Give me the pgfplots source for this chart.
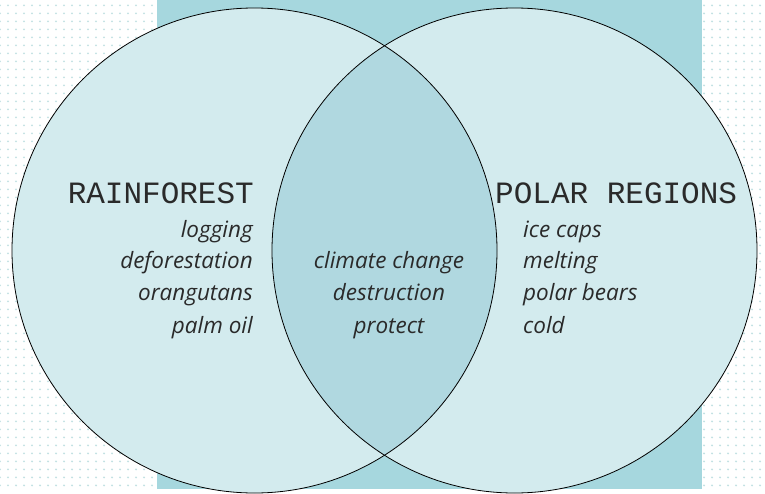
\documentclass[border=0pt]{standalone}
\usepackage{pgfplots}
\pgfplotsset{compat=1.18}
\usepackage{fontspec}
\usetikzlibrary{patterns.meta}
\newfontfamily\titlefont{Liberation Mono}
\newfontfamily\handfont{Open Sans}
\definecolor{rectc}{HTML}{A6D7DE}
\definecolor{circc}{HTML}{D3EBEE}
\definecolor{overc}{HTML}{B0D8E0}
\definecolor{dotc}{HTML}{C2E1E3}
\definecolor{txt}{HTML}{2A2A2A}
\tikzset{ttl/.style={inner sep=0pt, text=txt, font=\titlefont\fontsize{31bp}{31bp}\selectfont},
  itm/.style={inner sep=0pt, text=txt, font=\handfont\itshape\fontsize{22.5bp}{22.5bp}\selectfont}}
\begin{document}
\begin{tikzpicture}
\begin{axis}[width=765bp, height=489bp, scale only axis,
  xmin=0, xmax=765, ymin=0, ymax=489, y dir=reverse,
  hide axis, clip=false]
% background with dots
\fill[white] (axis cs:0,0) rectangle (axis cs:765,489);
\fill[pattern={Dots[radius=1.1bp, distance=8bp]}, pattern color=dotc] (axis cs:0,0) rectangle (axis cs:765,489);
% teal rectangle
\fill[rectc] (axis cs:157,0) rectangle (axis cs:702,489);
% circles
\fill[circc] (axis cs:254.5,250.5) circle[radius=242.5];
\fill[circc] (axis cs:514.5,250.5) circle[radius=242.5];
\begin{scope}
\clip (axis cs:254.5,250.5) circle[radius=242.5];
\fill[overc] (axis cs:514.5,250.5) circle[radius=242.5];
\end{scope}
\draw[black, line width=0.8bp] (axis cs:254.5,250.5) circle[radius=242.5];
\draw[black, line width=0.8bp] (axis cs:514.5,250.5) circle[radius=242.5];
% titles
\node[ttl, anchor=base east] at (axis cs:254,203) {RAINFOREST};
\node[ttl, anchor=base west] at (axis cs:495,203) {POLAR REGIONS};
% left items
\node[itm, anchor=base east] at (axis cs:253,237) {logging};
\node[itm, anchor=base east] at (axis cs:253,268) {deforestation};
\node[itm, anchor=base east] at (axis cs:253,300) {orangutans};
\node[itm, anchor=base east] at (axis cs:253,333) {palm oil};
% middle items
\node[itm, anchor=base] at (axis cs:389,268) {climate change};
\node[itm, anchor=base] at (axis cs:389,300) {destruction};
\node[itm, anchor=base] at (axis cs:389,333) {protect};
% right items
\node[itm, anchor=base west] at (axis cs:523,237) {ice caps};
\node[itm, anchor=base west] at (axis cs:523,268) {melting};
\node[itm, anchor=base west] at (axis cs:523,300) {polar bears};
\node[itm, anchor=base west] at (axis cs:523,333) {cold};
\end{axis}
\end{tikzpicture}
\end{document}
